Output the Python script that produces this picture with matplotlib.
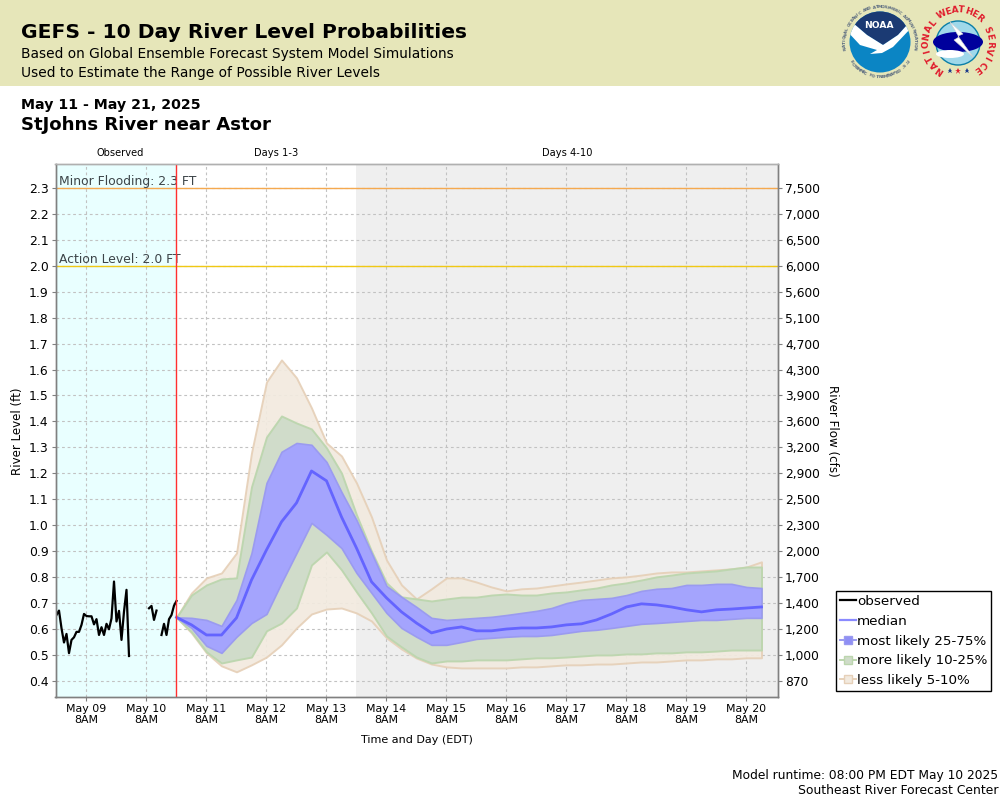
import numpy as np
import pandas as pd
import matplotlib
matplotlib.use('Agg')
import matplotlib.pyplot as plt
import matplotlib.patches as patches
from matplotlib.lines import Line2D

nan = float('nan')

# river level in ft, hourly from May 8 8PM
observed = [.654, .671, .603, .548, .581, .507, .558, .568, .589, .589, .616, .658, .650, .649, .649,
            .618, .638, .577, .607, .577, .620, .599, .641, .783, .629, .670, .558, .667, .751, .496,
            nan, nan, nan, nan, nan, nan, nan, .680, .689, .635, .671, nan, .577, .620, .577, .638,
            .654, .690, .708]

# forecast percentiles, 6 hourly from May 10 8PM
p95 = [.645, .739, .797, .816, .893, 1.279, 1.552, 1.637, 1.568, 1.452, 1.317, 1.267, 1.163, 1.032, .866,
       .770, .716, .755, .797, .797, .781, .762, .747, .755, .758, .766, .774, .781, .789, .797,
       .801, .808, .816, .820, .820, .824, .828, .832, .839, .859]
p90 = [.645, .731, .770, .793, .797, 1.148, 1.340, 1.421, 1.394, 1.371, 1.298, 1.201, 1.040, .900, .778,
       .724, .716, .708, .716, .723, .723, .731, .735, .731, .731, .739, .743, .751, .758, .770,
       .778, .789, .801, .808, .816, .820, .824, .832, .839, .839]
p75 = [.645, .643, .635, .612, .712, .893, 1.163, 1.283, 1.317, 1.310, 1.244, 1.128, 1.020, .893, .766,
       .724, .685, .643, .635, .639, .643, .647, .654, .662, .670, .681, .700, .712, .716, .720,
       .731, .747, .755, .758, .770, .770, .774, .774, .762, .758]
median = [.645, .616, .577, .577, .643, .789, .905, 1.013, 1.086, 1.209, 1.171, 1.032, .912, .782, .720,
          .666, .623, .585, .600, .608, .593, .593, .600, .604, .604, .608, .616, .620, .635, .658,
          .685, .697, .693, .685, .674, .666, .674, .677, .681, .685]
p25 = [.645, .604, .535, .508, .570, .623, .658, .778, .893, 1.009, .963, .912, .816, .739, .662,
       .604, .570, .539, .539, .550, .562, .566, .570, .573, .573, .577, .585, .593, .597, .604,
       .612, .620, .623, .627, .631, .635, .635, .639, .643, .643]
p10 = [.645, .589, .512, .469, .481, .492, .593, .623, .681, .847, .897, .828, .743, .662, .573,
       .531, .492, .469, .477, .477, .481, .481, .481, .485, .489, .489, .492, .496, .500, .500,
       .504, .504, .508, .508, .512, .512, .515, .519, .519, .519]
p5 = [.645, .585, .508, .458, .435, .462, .492, .539, .604, .658, .677, .681, .662, .631, .566,
      .523, .488, .465, .454, .450, .450, .450, .450, .454, .454, .458, .462, .462, .465, .465,
      .469, .473, .473, .477, .481, .481, .485, .485, .489, .489]

level_ticks = [.4, .5, .6, .7, .8, .9, 1.0, 1.1, 1.2, 1.3, 1.4, 1.5, 1.6, 1.7, 1.8, 1.9, 2.0, 2.1, 2.2, 2.3]
flow_labels = ['870', '1,000', '1,200', '1,400', '1,700', '2,000', '2,300', '2,500', '2,900', '3,200',
               '3,600', '3,900', '4,300', '4,700', '5,100', '5,600', '6,000', '6,500', '7,000', '7,500']

obs_times = pd.date_range('2025-05-08 20:00', periods=len(observed), freq='h')
fc_times = pd.date_range('2025-05-10 20:00', periods=len(median), freq='6h')
tick_times = pd.date_range('2025-05-09 08:00', periods=12, freq='D')
tick_labels = [t.strftime('%b %d') + '\n8AM' for t in tick_times]

BLUE_FILL, BLUE_EDGE = '#a3a3ff', '#9a9af0'
GREEN_FILL, GREEN_EDGE = '#cfdcc9', '#bcd6ae'
TAN_FILL, TAN_EDGE = '#f2eadf', '#e6d0b8'
W, H = 1000, 800


def circle_text(ax, cx, cy, r, text, start, end, size, color, bottom=False):
    # one rotated letter at a time round a circle, angles in degrees clockwise from the top
    for ch, ang in zip(text, np.linspace(start, end, len(text))):
        a = np.radians(ang)
        rot = 180 - ang if bottom else -ang
        ax.text(cx + r * np.sin(a), cy - r * np.cos(a), ch, fontsize=size, color=color, fontweight='bold',
                rotation=rot, ha='center', va='center', rotation_mode='anchor')


fig = plt.figure(figsize=(10, 8), dpi=100)

# page layer in pixels
bg = fig.add_axes([0, 0, 1, 1])
bg.set_xlim(0, W)
bg.set_ylim(H, 0)
bg.axis('off')
bg.add_patch(patches.Rectangle((0, 0), W, 85.5, facecolor='#e6e6b9', edgecolor='none'))
bg.text(21, 33, 'GEFS - 10 Day River Level Probabilities', fontsize=14.6, fontweight='bold', va='center')
bg.text(21, 54, 'Based on Global Ensemble Forecast System Model Simulations', fontsize=9.95, va='center')
bg.text(21, 73, 'Used to Estimate the Range of Possible River Levels', fontsize=9.92, va='center')
bg.text(21, 105, 'May 11 - May 21, 2025', fontsize=10.15, fontweight='bold', va='center')
bg.text(21, 125, 'StJohns River near Astor', fontsize=13.1, fontweight='bold', va='center')
bg.text(120, 153.5, 'Observed', fontsize=7.1, ha='center', va='center')
bg.text(276.5, 153.5, 'Days 1-3', fontsize=7.1, ha='center', va='center')
bg.text(567, 153.5, 'Days 4-10', fontsize=7.1, ha='center', va='center')
bg.text(18, 431, 'River Level (ft)', fontsize=8.6, rotation=90, ha='center', va='center')
bg.text(832, 431, 'River Flow (cfs)', fontsize=8.6, rotation=-90, ha='center', va='center')
bg.text(417, 740, 'Time and Day (EDT)', fontsize=8, ha='center', va='center')
bg.text(998, 775, 'Model runtime: 08:00 PM EDT May 10 2025', fontsize=8.8, ha='right', va='center')
bg.text(998, 791, 'Southeast River Forecast Center', fontsize=8.95, ha='right', va='center')

# NOAA logo
nx, ny = 880, 42
disc = patches.Circle((nx, ny), 30.5, facecolor='#0b85c4', edgecolor='none')
bg.add_patch(disc)
navy = patches.Polygon([(840, 5), (920, 5), (907, 25), (898, 35), (883, 45), (867, 35), (853, 23)],
                       facecolor='#1b3a73', edgecolor='none')
bg.add_patch(navy)
navy.set_clip_path(disc)
wing = patches.Polygon([(846, 30), (853, 23), (867, 35), (883, 45), (898, 35), (907, 25), (912, 27), (893, 47),
                        (882, 53), (870, 54), (877, 50), (860, 45)], facecolor='white', edgecolor='none')
bg.add_patch(wing)
wing.set_clip_path(disc)
bg.text(879, 26, 'NOAA', fontsize=6.6, fontweight='bold', color='white', ha='center', va='center')
circle_text(bg, nx, ny, 35, 'NATIONAL OCEANIC AND ATMOSPHERIC ADMINISTRATION', -100, 100, 3.2, '#5a6a80')
circle_text(bg, nx, ny, 35, 'U.S. DEPARTMENT OF COMMERCE', 125, 235, 3.2, '#5a6a80', bottom=True)

# NWS logo
sx, sy = 958, 43
bg.add_patch(patches.Circle((sx, sy), 22, facecolor='#9fd8ea', edgecolor='#0b7fa8', linewidth=1))
bg.add_patch(patches.Ellipse((sx, sy - 1), 50, 20, facecolor='#00009c', edgecolor='none'))
bg.add_patch(patches.Ellipse((sx - 8, sy + 11), 28, 8, facecolor='white', edgecolor='none'))
bg.add_patch(patches.Polygon([(950, 22), (963, 34), (958, 36), (973, 57), (954, 40), (959, 37)],
                             facecolor='white', edgecolor='#d0d0d0', linewidth=0.4))
circle_text(bg, sx, sy, 32, 'NATIONAL', -146, -51, 6.4, '#e01c2c')
circle_text(bg, sx, sy, 33, 'WEATHER', -29, 41, 6.4, '#e01c2c')
circle_text(bg, sx, sy, 32, 'SERVICE', 66, 144, 6.4, '#e01c2c')
for dx, col, ms in [(-8, '#1b3a8c', 2.2), (0, '#e01c2c', 3.4), (9, '#1b3a8c', 2.2)]:
    bg.plot(sx + dx, 71, marker='*', color=col, markersize=ms + 1.5, markeredgewidth=0)

# chart, frame runs from x=55 to 778 and y=164 to 697
ax = fig.add_axes([55.5 / W, 1 - 697 / H, 722.5 / W, 533 / H])
ax.set_facecolor('white')
ax.set_axisbelow(True)
ax.grid(True, color='#c2c2c2', linestyle=(0, (2.5, 2.5)), linewidth=0.8)

x_left = pd.Timestamp('2025-05-09 08:00') - pd.Timedelta(hours=12.4)
x_right = pd.Timestamp('2025-05-09 08:00') + pd.Timedelta(hours=276.6)
ax.axvspan(x_left, fc_times[0], facecolor='#e9ffff', edgecolor='none', zorder=0)
ax.axvspan(pd.Timestamp('2025-05-13 20:00'), x_right, facecolor='#efefef', edgecolor='none', zorder=0)

ax.fill_between(fc_times, p5, p95, facecolor=TAN_FILL, edgecolor=TAN_EDGE, linewidth=1.4, alpha=0.92, zorder=1)
ax.fill_between(fc_times, p10, p90, facecolor=GREEN_FILL, edgecolor=GREEN_EDGE, linewidth=1.4, alpha=0.95, zorder=1.1)
ax.fill_between(fc_times, p25, p75, facecolor=BLUE_FILL, edgecolor=BLUE_EDGE, linewidth=1.2, alpha=0.97, zorder=1.2)
ax.plot(fc_times, median, color='#6464ff', linewidth=2, zorder=2)
ax.plot(obs_times, observed, color='black', linewidth=1.6, zorder=3)

ax.axhline(2.3, color='#f5a94f', linewidth=1, zorder=2)
ax.axhline(2.0, color='#f0c814', linewidth=1, zorder=2)
ax.axvline(fc_times[0], color='#ff3030', linewidth=1, zorder=4)
ax.text(0.005, 2.3 + 0.024, 'Minor Flooding: 2.3 FT', transform=ax.get_yaxis_transform(), fontsize=8.9,
        color='#3c4448', va='center', ha='left')
ax.text(0.005, 2.0 + 0.024, 'Action Level: 2.0 FT', transform=ax.get_yaxis_transform(), fontsize=8.9,
        color='#3c4448', va='center', ha='left')

ax.set_xlim(x_left, x_right)
ax.set_ylim(0.338, 2.392)
ax.set_xticks(tick_times[:12])
ax.set_xticklabels(tick_labels, fontsize=7.9, linespacing=1.15)
ax.set_yticks(level_ticks)
ax.set_yticklabels([f'{v:.1f}' for v in level_ticks], fontsize=8.9)
ax.tick_params(axis='both', color='#808080', length=3, width=0.8, pad=2)
for s in ax.spines.values():
    s.set_color('#808080')
    s.set_linewidth(1)
ax.spines['top'].set_color('#b0b0b0')

ax2 = ax.twinx()
ax2.set_ylim(ax.get_ylim())
ax2.set_yticks(level_ticks)
ax2.set_yticklabels(flow_labels, fontsize=8.8)
ax2.tick_params(axis='y', color='#808080', length=3, width=0.8, pad=2)
for s in ax2.spines.values():
    s.set_color('#808080')
    s.set_linewidth(1)
ax2.spines['top'].set_color('#b0b0b0')

# legend
handles = [
    Line2D([], [], color='black', linewidth=1.6),
    Line2D([], [], color='#8a8aff', linewidth=1.6),
    Line2D([], [], color=BLUE_EDGE, linewidth=1.4, marker='s', markersize=6, markerfacecolor='#8f8ff5', markeredgecolor=BLUE_EDGE),
    Line2D([], [], color=GREEN_EDGE, linewidth=1.4, marker='s', markersize=6, markerfacecolor=GREEN_FILL, markeredgecolor=GREEN_EDGE),
    Line2D([], [], color=TAN_EDGE, linewidth=1.4, marker='s', markersize=6, markerfacecolor=TAN_FILL, markeredgecolor=TAN_EDGE),
]
leg = fig.legend(handles, ['observed', 'median', 'most likely 25-75%', 'more likely 10-25%', 'less likely 5-10%'],
                 loc='upper left', bbox_to_anchor=(835.5 / W, 1 - 591 / H), fontsize=9.7, fancybox=False, framealpha=1,
                 edgecolor='black', handlelength=1.2, handletextpad=0.1, labelspacing=0.5, borderpad=0.3,
                 borderaxespad=0)
leg.get_frame().set_linewidth(1)

fig.savefig('out.png', dpi=100)
